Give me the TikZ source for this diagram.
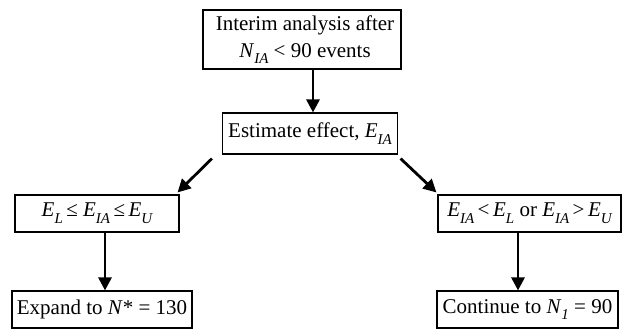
\documentclass[tikz,border=0pt]{standalone}
\usepackage{fontspec}
\setmainfont{Liberation Serif}
\usetikzlibrary{arrows.meta}
\newcommand\sbx[1]{\raisebox{-0.32em}{\fontsize{15pt}{15pt}\selectfont\itshape #1}}
\begin{document}
\begin{tikzpicture}[x=1pt,y=-1pt,
  box/.style={draw, line width=1.1pt, inner sep=0pt, align=center,
    font=\fontsize{21pt}{27pt}\selectfont},
  arr/.style={line width=2.8pt, -{Triangle[length=13pt,width=13pt]}}]
\useasboundingbox (0,0) rectangle (622,329);
\node[box, minimum width=198pt, minimum height=59pt] (top) at (302,39.5)
  {\hspace{6pt}Interim analysis after\\ \hspace{6pt}\textit{N}\sbx{IA} < 90 events};
\node[box, minimum width=175pt, minimum height=41pt] (est) at (310,133.5)
  {Estimate effect, \textit{E}\sbx{IA}};
\node[box, minimum width=164pt, minimum height=37pt] (lmid) at (97,213.5)
  {\textit{E}\sbx{L}\,≤ \textit{E}\sbx{IA}\,≤\,\textit{E}\sbx{U}};
\node[box, minimum width=183pt, minimum height=37pt] (rmid) at (529.5,213.5)
  {\textit{E}\sbx{IA}\,<\,\textit{E}\sbx{L} or \textit{E}\sbx{IA}\,>\,\textit{E}\sbx{U}};
\node[box, minimum width=180pt, minimum height=37pt] (bl) at (102,309.5)
  {Expand to \textit{N}* = 130};
\node[box, minimum width=181pt, minimum height=37pt] (br) at (527.5,309.5)
  {Continue to \textit{N}\sbx{1} = 90};
\coordinate (v1) at (313,0);
\coordinate (v2) at (105,0);
\coordinate (v3) at (518,0);
\draw[arr] (top.south -| v1) -- (est.north -| v1);
\draw[arr] ([shift={(-10,4)}]est.south west) -- ([shift={(-2,-2)}]lmid.north east);
\draw[arr] ([shift={(2.5,4)}]est.south east) -- ([shift={(-1,-2)}]rmid.north west);
\draw[arr] (lmid.south -| v2) -- (bl.north -| v2);
\draw[arr] (rmid.south -| v3) -- (br.north -| v3);
\end{tikzpicture}
\end{document}
